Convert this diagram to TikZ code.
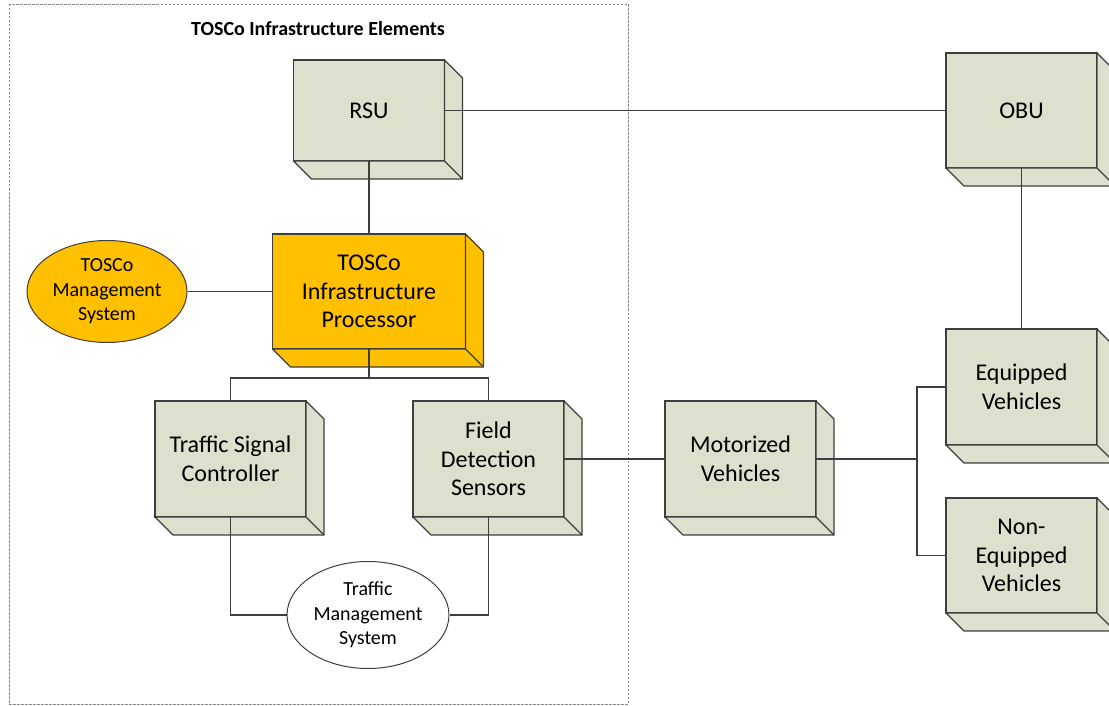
\documentclass[tikz,border=0pt]{standalone}
\usepackage{fontspec}
\setmainfont{Carlito}
\usetikzlibrary{positioning, shapes.geometric}
\definecolor{unitfill}{RGB}{221,224,205}
\definecolor{toscofill}{RGB}{255,192,0}
\definecolor{wire}{RGB}{62,62,62}
\tikzset{
    unit/.style={draw=wire, fill=unitfill, line width=1.1pt, outer sep=0pt, align=center,
        minimum width=151pt, minimum height=116pt, font=\fontsize{24}{28.5}\selectfont}, % front face of a box
    tosco/.style={fill=toscofill}, % the TOSCo parts are orange
    face/.style={draw=wire, line width=1.1pt, line join=round}, % side and bottom faces of a box
    system/.style={ellipse, draw=wire, line width=1pt, inner sep=0pt, align=center,
        font=\fontsize{20}{24.5}\selectfont}, % ellipse for the management systems
    link/.style={draw=wire, line width=1.1pt}, % plain connector
    group/.style={draw=black!45, line width=0.8pt, dash pattern=on 2.5pt off 1.5pt}, % dashed group frame
    grouptitle/.style={font=\bfseries\fontsize{20}{24}\selectfont},
}

\begin{document}
\begin{tikzpicture}[x=1pt, y=-1pt]
\useasboundingbox (0,0) rectangle (1109,706);
\draw[group] (9,4) rectangle (628,704);
\node[grouptitle] (grp) at (318,29) {TOSCo Infrastructure Elements};

\node[unit, minimum height=101pt]                        (rsu)  at (369,110.5) {RSU};
\node[unit, minimum height=115pt, right=501.5pt of rsu]  (obu)  {OBU};
\node[unit, tosco, minimum width=193pt, minimum height=115pt, below=73pt of rsu] (proc) {TOSCo\\Infrastructure\\Processor};
\node[system, tosco, minimum width=160pt, minimum height=102pt, left=85pt of proc] (tms) {TOSCo\\Management\\System};
\node[unit]                                              (tsc)  at (230.5,459) {Traffic Signal\\Controller};
\node[unit, right=107pt of tsc]                          (fds)  {Field\\Detection\\Sensors};
\node[unit, right=101pt of fds]                          (mv)   {Motorized\\Vehicles};
\node[unit]                                              (eq)   at (1021.5,387) {Equipped\\Vehicles};
\node[unit, minimum height=115pt, below=53pt of eq]      (neq)  {Non-\\Equipped\\Vehicles};
\node[system, fill=white, minimum width=162pt, minimum height=107pt] (traffic) at (368,615) {Traffic\\Management\\System};

% side and bottom faces of the boxes
\foreach \n/\c in {rsu/unitfill, obu/unitfill, proc/toscofill, tsc/unitfill, fds/unitfill, mv/unitfill, eq/unitfill, neq/unitfill}{
    \draw[face, fill=\c] (\n.north east) -- ++(18,18) |- ([shift={(18,18)}]\n.south west) -- (\n.south west) -- (\n.south east) -- cycle;
    \draw[face] (\n.south east) -- ++(18,18);
}

\coordinate (split) at ([yshift=-29pt]proc.south);
\coordinate (fork)  at ([xshift=101pt]mv.east);
\draw[link]
(rsu.east)   -- (obu.west)
(rsu.south)  -- (proc.north)
(tms.east)   -- (proc.west)
(proc.south) -- (split)
(split)      -| (tsc.north)
(split)      -| (fds.north)
(tsc.south)  |- (traffic.west)
(fds.south)  |- (traffic.east)
(fds.east)   -- (mv.west)
(mv.east)    -- (fork)
(fork)       |- (eq.west)
(fork)       |- (neq.west)
(obu.south)  -- (eq.north);
\end{tikzpicture}
\end{document}
